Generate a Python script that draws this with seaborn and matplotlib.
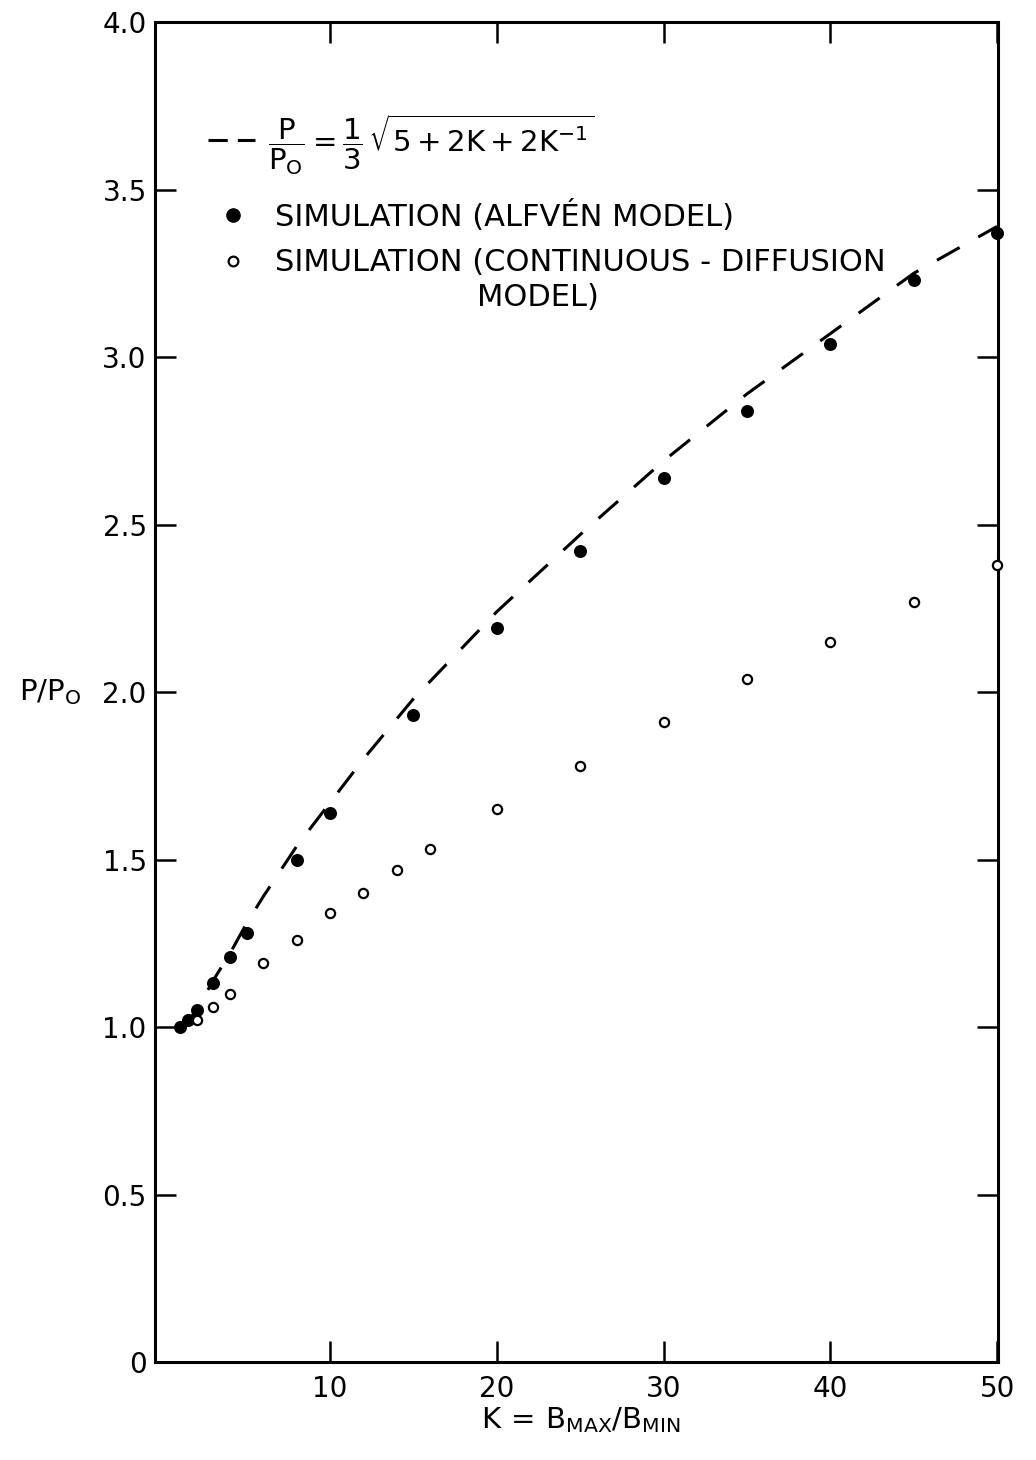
import matplotlib
matplotlib.use("Agg")
import matplotlib.pyplot as plt
import seaborn as sns
import pandas as pd

# Alfvén-model simulation (filled circles)
alfven_k = [1, 1.5, 2, 3, 4, 5, 8, 10, 15, 20, 25, 30, 35, 40, 45, 50]
alfven_p = [1.00, 1.02, 1.05, 1.13, 1.21, 1.28, 1.50, 1.64, 1.93, 2.19,
            2.42, 2.64, 2.84, 3.04, 3.23, 3.37]

# Continuous-diffusion simulation (open circles)
diffusion_k = [2, 3, 4, 6, 8, 10, 12, 14, 16, 20, 25, 30, 35, 40, 45, 50]
diffusion_p = [1.02, 1.06, 1.10, 1.19, 1.26, 1.34, 1.40, 1.47, 1.53, 1.65,
               1.78, 1.91, 2.04, 2.15, 2.27, 2.38]

# Analytic curve P/P0 = (1/3) sqrt(5 + 2K + 2/K)
curve_k = [1, 1.25, 1.5, 2, 3, 4, 5, 6, 8, 10, 12, 15, 20, 25, 30, 35, 40, 45, 50]
curve_p = [1.00, 1.005, 1.02, 1.05, 1.14, 1.22, 1.31, 1.39, 1.54, 1.67, 1.80,
           1.98, 2.24, 2.47, 2.69, 2.89, 3.07, 3.25, 3.39]

x_ticks = [10, 20, 30, 40, 50]
x_tick_labels = ["10", "20", "30", "40", "50"]
y_ticks = [0, 0.5, 1.0, 1.5, 2.0, 2.5, 3.0, 3.5, 4.0]
y_tick_labels = ["0", "0.5", "1.0", "1.5", "2.0", "2.5", "3.0", "3.5", "4.0"]

legend_formula = r"$\dfrac{P}{P_O} = \dfrac{1}{3}\,\sqrt{5 + 2K + 2K^{-1}}$"
legend_alfven = "SIMULATION (ALFVÉN MODEL)"
legend_diffusion = "SIMULATION (CONTINUOUS - DIFFUSION"
legend_diffusion_2 = "MODEL)"
x_label = r"$K\,=\,B_{MAX}/B_{MIN}$"
y_label = r"$P/P_O$"

sns.set_theme(style="ticks")
plt.rcParams["font.family"] = ["DejaVu Sans"]
plt.rcParams["mathtext.default"] = "regular"
plt.rcParams["mathtext.fontset"] = "dejavusans"

alfven_df = pd.DataFrame({"K": alfven_k, "P": alfven_p})
diffusion_df = pd.DataFrame({"K": diffusion_k, "P": diffusion_p})
curve_df = pd.DataFrame({"K": curve_k, "P": curve_p})

fig = plt.figure(figsize=(10.36, 14.6), dpi=100)
ax = fig.add_axes([0.1496, 0.0671, 0.8137, 0.9178])

sns.lineplot(data=curve_df, x="K", y="P", ax=ax, color="black", lw=2.2,
             sort=False, estimator=None)
ax.lines[-1].set_dashes((8.5, 7))

sns.scatterplot(data=alfven_df, x="K", y="P", ax=ax, color="black",
                marker="o", s=88, linewidth=0, clip_on=False, zorder=4)
sns.scatterplot(data=diffusion_df, x="K", y="P", ax=ax, facecolor="white",
                edgecolor="black", marker="o", s=44, linewidth=1.6,
                clip_on=False, zorder=4)

ax.set_xlim(-0.5, 50.05)
ax.set_ylim(0, 4.0)
ax.set_xticks(x_ticks)
ax.set_xticklabels(x_tick_labels)
ax.set_yticks(y_ticks)
ax.set_yticklabels(y_tick_labels)

for side in ["left", "right", "top", "bottom"]:
    ax.spines[side].set_visible(True)
    ax.spines[side].set_linewidth(2.2)
    ax.spines[side].set_color("black")

ax.tick_params(axis="both", which="major", direction="in", length=15,
               width=1.8, color="black", labelsize=20, labelcolor="black",
               top=True, right=True)
ax.tick_params(axis="x", pad=9)
ax.tick_params(axis="y", pad=6)

ax.set_xlabel(x_label, fontsize=21, color="black")
ax.xaxis.set_label_coords(0.505, -0.043)
ax.xaxis.label.set_va("center")
ax.set_ylabel(y_label, fontsize=21, color="black", rotation=0)
ax.yaxis.set_label_coords(-0.125, 0.5)
ax.yaxis.label.set_va("center")
ax.yaxis.label.set_ha("center")

# key block in the upper-left corner
ax.plot([0.0629, 0.1186], [0.912, 0.912], transform=ax.transAxes,
        color="black", lw=2.2, dashes=(6.3, 3.3), solid_capstyle="butt")
ax.text(0.134, 0.908, legend_formula, transform=ax.transAxes, fontsize=21,
        ha="left", va="center", color="black")
ax.plot([0.0925], [0.856], transform=ax.transAxes, marker="o", ms=9.5,
        color="black", ls="none")
ax.text(0.1423, 0.8478, legend_alfven, transform=ax.transAxes, fontsize=22,
        ha="left", va="baseline", color="black")
ax.plot([0.0925], [0.822], transform=ax.transAxes, marker="o", ms=7,
        mfc="white", mec="black", mew=1.6, ls="none")
ax.text(0.1423, 0.8142, legend_diffusion, transform=ax.transAxes, fontsize=22,
        ha="left", va="baseline", color="black")
ax.text(0.382, 0.788, legend_diffusion_2, transform=ax.transAxes, fontsize=22,
        ha="left", va="baseline", color="black")

fig.savefig("out.png", dpi=100, facecolor="white")
